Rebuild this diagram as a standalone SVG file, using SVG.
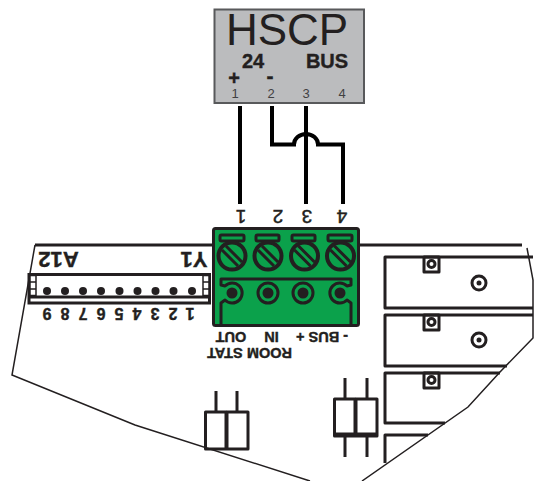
<svg xmlns="http://www.w3.org/2000/svg" width="534" height="481" viewBox="0 0 534 481">
<style>
text{font-family:"Liberation Sans",Arial,sans-serif;fill:#231f20;text-anchor:middle}
.b{font-weight:bold;stroke:#231f20;stroke-width:.4}
.n{stroke:#231f20;stroke-width:.5}
.w{fill:none;stroke:#000;stroke-width:4}
.k{fill:none;stroke:#231f20;stroke-width:3;stroke-linejoin:round}
.t{fill:none;stroke:#231f20;stroke-width:1.5}
.f{fill:#231f20}
</style>
<g id="board">
<path class="t" d="M35 245L12 375L135 425L310 481M527 248L533 280V338L500 372L468 407L362 481"/>
<path class="k" d="M35 245H213M359 245H522"/>
<g id="relays">
<path class="k" d="M533 257H385V308H533M533 315H385V366H507M500 373H385V423H445M428 435H385V463"/>
<path class="k" d="M424 257h15v15h-15zM424 315h15v15h-15zM424 373h15v15h-15z"/>
<circle cx="431.500" cy="264" r="3.500" class="k" stroke-width="2"/><circle cx="431.500" cy="322" r="3.500" class="k"/><circle cx="431.500" cy="380" r="3.500" class="k"/>
<circle cx="479" cy="283" r="7" class="k"/><circle cx="479" cy="283" r="2.500" class="f"/>
<circle cx="479" cy="340" r="7" class="k"/><circle cx="479" cy="340" r="2.500" class="f"/>
</g>
</g>
<g id="hscp">
<rect x="214.500" y="9.500" width="149.500" height="93.500" fill="#bbbcbe" stroke="#58595b" stroke-width="2"/>
<text x="287" y="45" font-size="44">HSCP</text>
<text x="253" y="68" font-size="20" class="b">24</text>
<text x="327" y="68" font-size="20" class="b">BUS</text>
<text x="234" y="85" font-size="20" class="b">+</text>
<text x="270" y="83" font-size="21" class="b">-</text>
<text x="235" y="98" font-size="13" style="fill:#414042">1</text>
<text x="271" y="98" font-size="13" style="fill:#414042">2</text>
<text x="306" y="98" font-size="13" style="fill:#414042">3</text>
<text x="342" y="98" font-size="13" style="fill:#414042">4</text>
</g>
<g id="connectors">
<path class="w" d="M240 106V204M306 106V204M272 106V144.500H294A12 10.500 0 0 1 318 144.500H343V204"/>
</g>
<g id="terminal">
<rect x="213.500" y="228.500" width="145" height="97" rx="2" fill="#0ba14b" stroke="#231f20" stroke-width="3"/>
<g class="k">
<rect x="220" y="235" width="24" height="6" rx="1.500"/><rect x="256" y="235" width="23" height="6" rx="1.500"/><rect x="292" y="235" width="23" height="6" rx="1.500"/><rect x="328" y="235" width="24" height="6" rx="1.500"/>
<circle cx="232" cy="256" r="13.500" stroke-width="4"/><circle cx="268" cy="256" r="13.500" stroke-width="4"/><circle cx="304.500" cy="256" r="13.500" stroke-width="4"/><circle cx="340.500" cy="256" r="13.500" stroke-width="4"/>
<path d="M226 246l16 16M222 250l16 16M262 246l16 16M258 250l16 16M298.500 246l16 16M294.500 250l16 16M334.500 246l16 16M330.500 250l16 16" stroke-width="3"/>
<path d="M221 326V303L225 300A10 10 0 1 0 225 286L221 285V279H351V285L347 286A10 10 0 1 0 347 300L351 303V326"/>
<circle cx="268" cy="293" r="10"/><circle cx="303" cy="293" r="10"/>
</g>
<circle cx="232" cy="293" r="5.500" class="f"/><circle cx="268" cy="293" r="5.500" class="f"/><circle cx="303" cy="293" r="5.500" class="f"/><circle cx="340" cy="293" r="5.500" class="f"/>
<text class="n" transform="rotate(180 241 217)" x="241" y="224" font-size="19">1</text>
<text class="n" transform="rotate(180 278 217)" x="278" y="224" font-size="19">2</text>
<text class="n" transform="rotate(180 307 217)" x="307" y="224" font-size="19">3</text>
<text class="n" transform="rotate(180 342 217)" x="342" y="224" font-size="19">4</text>
<text class="b" transform="rotate(180 231 337)" x="231" y="342" font-size="14.500">OUT</text>
<text class="b" transform="rotate(180 271.500 337)" x="271.500" y="342" font-size="14.500">IN</text>
<text class="b" transform="rotate(180 322 337)" x="322" y="342" font-size="14.500">- BUS +</text>
<text class="b" transform="rotate(180 249.500 353)" x="249.500" y="358" font-size="14.500">ROOM STAT</text>
</g>
<g id="a12">
<rect x="29" y="274.500" width="180.500" height="28.500" fill="none" stroke="#231f20" stroke-width="3"/>
<path class="k" d="M29 297H209.500"/>
<path class="t" d="M30 275.500h6v20h-6zM30 282h6M30 289h6M203 275.500h6v20h-6zM203 282h6M203 289h6" style="fill:#fff"/>
<g class="f"><circle cx="47" cy="291" r="4"/><circle cx="65" cy="291" r="4"/><circle cx="83" cy="291" r="4"/><circle cx="101" cy="291" r="4"/><circle cx="119.500" cy="291" r="4"/><circle cx="137.500" cy="291" r="4"/><circle cx="155.500" cy="291" r="4"/><circle cx="173.500" cy="291" r="4"/><circle cx="192" cy="291" r="4"/></g>
<g class="b" font-size="16">
<text transform="rotate(180 190 314)" x="190" y="320">1</text><text transform="rotate(180 173 314)" x="173" y="320">2</text><text transform="rotate(180 155 314)" x="155" y="320">3</text><text transform="rotate(180 137 314)" x="137" y="320">4</text><text transform="rotate(180 119 314)" x="119" y="320">5</text><text transform="rotate(180 101 314)" x="101" y="320">6</text><text transform="rotate(180 83 314)" x="83" y="320">7</text><text transform="rotate(180 65 314)" x="65" y="320">8</text><text transform="rotate(180 47 314)" x="47" y="320">9</text>
</g>
<text class="b" transform="rotate(180 58.500 260)" x="58.500" y="268" font-size="22">A12</text>
<text class="b" transform="rotate(180 194 260)" x="194" y="268" font-size="22">Y1</text>
</g>
<g id="jumpers">
<path class="k" d="M205.500 412h20.500v37h-20.500zM227 412h21v37h-21zM334.500 399h20.500v37h-20.500zM356 399h21v37h-21z"/>
<path class="k" d="M216 391V412M237 391V412"/>
<path class="k" stroke-width="4" d="M345 378V399M345 436V457M367 378V399M367 436V457M335 434H377"/>
</g>
</svg>
